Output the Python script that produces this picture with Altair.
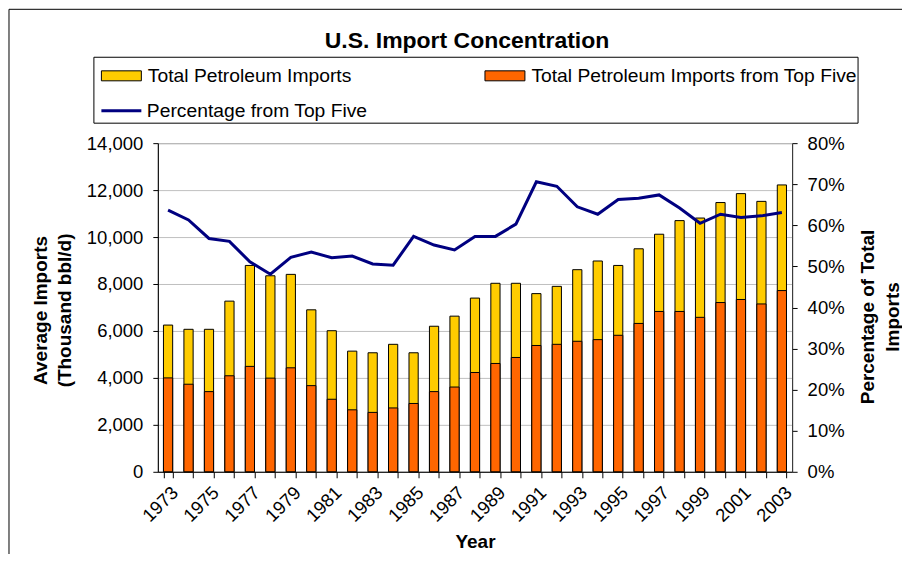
import altair as alt
import pandas as pd

years = ["1973", "1974", "1975", "1976", "1977", "1978", "1979", "1980", "1981", "1982",
         "1983", "1984", "1985", "1986", "1987", "1988", "1989", "1990", "1991", "1992",
         "1993", "1994", "1995", "1996", "1997", "1998", "1999", "2000", "2001", "2002", "2003"]

total_imports = [6250, 6070, 6070, 7270, 8790, 8350, 8410, 6900, 6010, 5140,
                 5070, 5430, 5070, 6200, 6630, 7400, 8030, 8030, 7590, 7900,
                 8610, 8980, 8790, 9500, 10120, 10700, 10810, 11470, 11850, 11520, 12220]

top_five_imports = [4000, 3730, 3415, 4090, 4490, 3990, 4430, 3670, 3090, 2640,
                    2530, 2720, 2910, 3415, 3610, 4230, 4615, 4870, 5380, 5430,
                    5560, 5630, 5815, 6320, 6830, 6830, 6580, 7210, 7340, 7150, 7720]

pct_top_five = [63.7, 61.3, 56.8, 56.1, 51.1, 48.1, 52.2, 53.5, 52.1, 52.5,
                50.6, 50.3, 57.3, 55.2, 54.0, 57.3, 57.3, 60.3, 70.6, 69.5,
                64.5, 62.7, 66.3, 66.6, 67.4, 64.2, 60.5, 62.7, 61.9, 62.3, 63.1]

left_ticks = [0, 2000, 4000, 6000, 8000, 10000, 12000, 14000]
right_ticks = [0, 10, 20, 30, 40, 50, 60, 70, 80]

S_TOTAL = "Total Petroleum Imports"
S_TOP5 = "Total Petroleum Imports from Top Five"
S_PCT = "Percentage from Top Five"

FONT = "Liberation Sans"

n = len(years)
bars_df = pd.DataFrame({
    "Year": years + years,
    "Series": [S_TOTAL] * n + [S_TOP5] * n,
    "Imports": total_imports + top_five_imports,
    "ord": [0] * n + [1] * n,
})
line_df = pd.DataFrame({"Year": years, "Pct": pct_top_five, "Series": [S_PCT] * n})

x_enc = alt.X(
    "Year:O", sort=years,
    scale=alt.Scale(paddingInner=0.55, paddingOuter=0.275),
    axis=alt.Axis(
        title="Year", labelAngle=-45, labelOverlap=False,
        labelExpr="toNumber(datum.value) % 2 == 1 ? datum.label : ''",
        tickBand="extent", tickSize=6, tickColor="black", domainColor="black",
        labelFont=FONT, labelFontSize=18.5, labelColor="black", labelPadding=5,
        titleFont=FONT, titleFontSize=19, titleFontWeight="bold", titleColor="black",
        titleY=70, titleBaseline="middle", grid=False,
    ),
)

frame = alt.Chart(alt.Data(values=[{"k": 1}])).mark_rect(
    fill="white", fillOpacity=0, stroke="black", strokeWidth=1
).encode(x=alt.value(-149), x2=alt.value(800), y=alt.value(-134), y2=alt.value(600))

legend_box = alt.Chart(alt.Data(values=[{"k": 1}])).mark_rect(
    fill="white", fillOpacity=0, stroke="black", strokeWidth=1
).encode(x=alt.value(-64), x2=alt.value(701), y=alt.value(-86), y2=alt.value(-20))

bars = alt.Chart(bars_df).mark_bar(stroke="black", strokeWidth=1).encode(
    x=x_enc,
    y=alt.Y(
        "Imports:Q", stack=None,
        scale=alt.Scale(domain=[0, 14000], nice=False),
        axis=alt.Axis(
            orient="left", values=left_ticks, format=",.0f",
            title=["Average Imports", "(Thousand bbl/d)"],
            titleAngle=270, titleX=-117, titleY=167, titleAlign="center",
            titleBaseline="middle", titleLineHeight=24,
            titleFont=FONT, titleFontSize=19, titleFontWeight="bold", titleColor="black",
            labelFont=FONT, labelFontSize=18.5, labelColor="black", labelPadding=10,
            tickSize=5, tickColor="black", domainColor="black",
            grid=True, gridColor="#c0c0c0", gridWidth=1,
        ),
    ),
    fill=alt.Fill(
        "Series:N",
        scale=alt.Scale(domain=[S_TOTAL, S_TOP5], range=["#FFCC00", "#FF6600"]),
        legend=alt.Legend(
            title=None, orient="none", legendX=-57, legendY=-88,
            direction="horizontal", columns=2, columnPadding=131,
            symbolType="M-1,-0.25H1V0.25H-1Z", symbolSize=1600,
            symbolStrokeColor="black", symbolStrokeWidth=1,
            labelFont=FONT, labelFontSize=19.3, labelColor="black",
            labelOffset=6, labelLimit=600, padding=0,
        ),
    ),
    order=alt.Order("ord:Q"),
)

line = alt.Chart(line_df).mark_line(strokeWidth=3).encode(
    x=x_enc,
    y=alt.Y(
        "Pct:Q",
        scale=alt.Scale(domain=[0, 80], nice=False),
        axis=alt.Axis(
            orient="right", values=right_ticks, labelExpr="datum.value + '%'",
            title=["Percentage of Total", "Imports"],
            titleAngle=270, titleX=75.5, titleY=173.5, titleAlign="center",
            titleBaseline="middle", titleLineHeight=25,
            titleFont=FONT, titleFontSize=19, titleFontWeight="bold", titleColor="black",
            labelFont=FONT, labelFontSize=18.5, labelColor="black", labelPadding=10,
            tickSize=5, tickColor="black", domainColor="#333333", grid=False,
        ),
    ),
    stroke=alt.Stroke(
        "Series:N",
        scale=alt.Scale(domain=[S_PCT], range=["#000080"]),
        legend=alt.Legend(
            title=None, orient="none", legendX=-58, legendY=-54,
            symbolType="stroke", symbolSize=1600, symbolStrokeWidth=3,
            labelFont=FONT, labelFontSize=19.3, labelColor="black",
            labelOffset=4, labelLimit=600, padding=0,
        ),
    ),
)

chart = alt.layer(frame, legend_box, bars, line).resolve_scale(
    y="independent"
).properties(
    width=635, height=329,
    autosize=alt.AutoSizeParams(type="none"),
    padding={"left": 150, "top": 135, "right": 110, "bottom": 82},
    title=alt.TitleParams(
        "U.S. Import Concentration", anchor="middle", font=FONT, fontSize=23,
        fontWeight="bold", color="black", dx=-8, dy=48,
    ),
).configure_view(stroke="#808080")

chart.save("out.html", embed_options={"renderer": "svg", "actions": False})
